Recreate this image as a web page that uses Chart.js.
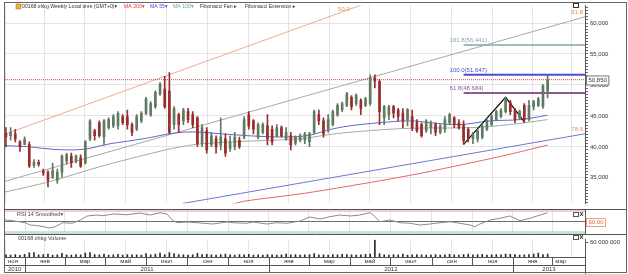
<!DOCTYPE html>
<html>
<head>
<meta charset="utf-8">
<script src="https://cdn.jsdelivr.net/npm/chart.js@4.4.1/dist/chart.umd.min.js"></script>
<style>
  body { margin: 0; background: #fff; }
  #wrap { position: relative; width: 628px; height: 274px; overflow: hidden; }
  #wrap canvas { position: absolute; left: 0; }
  .ln { position: absolute; background: #666; }
</style>
</head>
<body>
<div id="wrap">
  <canvas id="priceChart" width="628" height="209" style="top:0"></canvas>
  <canvas id="rsiChart" width="628" height="25" style="top:209px"></canvas>
  <canvas id="volumeChart" width="628" height="40" style="top:234px"></canvas>
  <div class="ln" style="left:4px;top:2px;width:623px;height:1px"></div>
  <div class="ln" style="left:4px;top:2px;width:1px;height:271px"></div>
  <div class="ln" style="left:626px;top:2px;width:1px;height:271px"></div>
  <div class="ln" style="left:4px;top:272px;width:623px;height:1px"></div>
</div>
<script>
// weekly candles 00168.xhkg, first week 2010-12-03
var startDate = Date.UTC(2010, 11, 3);

var opens = [
  42.2, 41.8, 42.1, 40.8, 40.4, 40.4, 37.0, 37.5, 36.1, 35.9,
  35.1, 34.6, 35.9, 37.7, 38.5, 37.7, 38.2, 37.4, 41.3, 42.6,
  43.9, 41.6, 43.1, 43.4, 43.4, 44.9, 44.9, 43.6, 42.85, 44.2,
  45.45, 45.2, 46.5, 48.55, 49.32, 49.06, 43.6, 45.2, 44.2, 45.7,
  45.2, 44.67, 40.5, 42.6, 40.4, 41.3, 40.3, 41.3, 39.75, 40.02,
  41.06, 41.57, 45.2, 44.2, 41.6, 42.35, 43.4, 42.85, 41.8, 43.1,
  41.3, 41.8, 40.6, 41.06, 41.06, 40.8, 42.35, 45.2, 44.2, 42.85,
  43.6, 45.2, 45.95, 46.7, 48.0, 47.0, 47.5, 46.7, 47.0, 51.1,
  50.6, 44.67, 45.2, 46.5, 45.95, 45.45, 44.4, 44.9, 43.9, 43.6,
  42.6, 43.1, 43.6, 42.35, 42.85, 43.9, 44.67, 43.9, 43.6, 42.85,
  41.3, 41.3, 41.57, 42.85, 43.6, 44.4, 44.9, 45.7, 47.25, 45.95,
  44.67, 46.7, 44.4, 46.5, 46.7, 46.5, 49.0
];
var highs = [
  43.1, 43.1, 42.85, 41.0, 41.6, 40.8, 37.95, 37.85, 36.4, 36.15,
  37.4, 36.4, 38.7, 38.98, 38.98, 38.7, 38.7, 41.0, 44.4, 42.85,
  44.2, 44.4, 44.67, 45.2, 45.7, 45.2, 45.95, 43.9, 45.2, 45.7,
  48.0, 47.3, 49.06, 50.36, 51.4, 52.0, 46.5, 45.45, 46.22, 46.22,
  45.7, 44.9, 43.6, 43.1, 42.35, 41.8, 44.67, 42.1, 41.8, 42.35,
  41.57, 44.9, 45.7, 44.4, 43.9, 43.9, 45.2, 43.4, 43.6, 43.4,
  43.1, 42.35, 41.8, 42.1, 42.35, 42.35, 45.95, 45.95, 44.67, 45.2,
  45.95, 47.0, 47.25, 48.8, 48.3, 48.55, 47.77, 48.0, 51.65, 51.65,
  50.87, 46.7, 46.7, 46.7, 46.22, 46.2, 46.2, 45.95, 44.4, 43.9,
  44.4, 44.2, 43.9, 43.6, 44.9, 45.45, 44.9, 44.4, 44.2, 43.1,
  42.35, 42.85, 43.6, 44.4, 45.2, 45.95, 46.2, 48.0, 47.5, 46.22,
  45.95, 47.0, 47.5, 47.5, 48.0, 50.1, 51.65
];
var lows = [
  40.0, 41.1, 40.8, 39.25, 40.3, 36.66, 36.66, 36.9, 35.37, 33.55,
  34.86, 34.1, 35.1, 37.2, 36.66, 37.4, 36.66, 37.2, 41.0, 41.06,
  41.57, 40.3, 42.85, 43.1, 42.85, 43.6, 42.85, 41.8, 42.6, 43.9,
  45.2, 44.9, 46.22, 48.3, 46.22, 42.1, 42.85, 42.35, 43.6, 43.9,
  43.1, 40.02, 40.02, 38.98, 40.02, 38.98, 39.5, 38.47, 39.25, 39.5,
  39.75, 41.3, 42.85, 42.1, 41.3, 42.1, 40.3, 40.3, 41.57, 41.57,
  41.06, 39.5, 40.3, 40.8, 40.5, 40.02, 42.1, 43.6, 41.57, 42.35,
  43.4, 44.9, 45.7, 46.5, 45.95, 46.7, 45.2, 46.5, 46.7, 49.5,
  43.6, 43.6, 44.4, 44.67, 44.2, 43.1, 43.4, 42.6, 42.35, 41.57,
  42.35, 42.1, 41.8, 42.1, 42.35, 43.6, 43.1, 42.85, 40.4, 40.8,
  40.5, 40.8, 41.3, 42.6, 43.4, 44.2, 44.67, 45.45, 45.2, 43.9,
  44.4, 43.9, 44.2, 45.95, 46.5, 46.2, 47.9
];
var closes = [
  41.6, 42.35, 41.3, 40.0, 41.2, 36.9, 37.5, 37.2, 35.8, 34.6,
  36.15, 35.9, 38.5, 38.7, 37.4, 38.5, 36.9, 40.8, 44.2, 41.8,
  41.8, 44.2, 44.4, 44.9, 45.4, 43.9, 43.6, 42.35, 44.9, 45.4,
  47.77, 47.0, 48.8, 50.1, 46.5, 42.35, 46.2, 43.6, 45.95, 44.4,
  43.6, 40.5, 43.1, 39.5, 41.8, 40.0, 41.6, 38.98, 40.8, 41.57,
  40.02, 44.4, 43.4, 42.85, 43.6, 43.6, 41.3, 40.8, 43.1, 41.8,
  42.35, 40.3, 41.57, 41.8, 42.1, 42.1, 45.7, 44.2, 42.1, 44.4,
  45.7, 46.7, 47.0, 48.55, 46.5, 48.3, 46.22, 47.77, 51.1, 50.6,
  45.7, 46.5, 46.5, 45.45, 44.9, 44.2, 46.0, 43.0, 42.6, 41.8,
  44.2, 43.9, 42.35, 43.4, 44.4, 45.2, 43.6, 43.1, 41.0, 41.3,
  42.1, 42.6, 43.4, 44.2, 44.9, 45.7, 45.95, 47.5, 45.7, 44.4,
  45.7, 44.4, 46.7, 47.3, 47.77, 49.8, 50.85
];
// volume, millions of shares
var volumes = [
  9, 8, 10, 7, 11, 17, 18, 9, 10, 12,
  8, 9, 15, 9, 8, 10, 9, 16, 18, 10,
  9, 12, 8, 9, 11, 8, 10, 9, 9, 8,
  14, 9, 12, 16, 10, 18, 14, 10, 9, 8,
  9, 15, 10, 11, 9, 8, 10, 12, 9, 8,
  10, 9, 11, 8, 9, 8, 10, 9, 8, 9,
  12, 9, 10, 8, 9, 10, 14, 9, 9, 8,
  10, 9, 11, 10, 9, 8, 9, 11, 12, 70,
  14, 9, 8, 10, 9, 12, 8, 9, 10, 9,
  8, 9, 10, 8, 9, 11, 9, 8, 10, 12,
  9, 10, 11, 8, 9, 10, 9, 12, 11, 10,
  8, 9, 10, 12, 16, 10, 12
];

// moving averages: [week, value]
var ma55 = [[-0.2, 40.2], [5.2, 40.0], [10.1, 39.6], [16.5, 39.6], [22.3, 40.5], [29.4, 41.3], [35.8, 42.2],
  [40.1, 42.4], [48.0, 42.0], [54.4, 41.7], [60.8, 41.6], [65.1, 41.9], [69.4, 42.8], [73.7, 43.4],
  [80.1, 43.9], [86.5, 44.2], [90.8, 43.9], [97.2, 43.6], [103.7, 44.2], [110.1, 44.4], [116, 45.1]];
var ma100 = [[-0.2, 32.7], [9.4, 34.4], [20.1, 36.8], [30.9, 38.9], [37.3, 40.0], [43.7, 40.6], [54.4, 41.0],
  [63.0, 41.3], [69.4, 42.0], [75.8, 42.5], [86.5, 43.0], [99.4, 43.1], [107.9, 43.6], [116, 44.4]];
var ma200 = [[48.0, 30.6], [50.8, 31.2], [63.0, 32.4], [73.7, 33.7], [86.5, 35.4], [99.4, 37.4], [107.9, 38.8], [116, 40.3]];

// RSI 14 smoothed: [week, value]
var rsiPts = [[-0.2, 53.6], [1.5, 51.9], [4.1, 47.1], [5.2, 41.6], [7.3, 39.2], [9.4, 34.4], [10.5, 37.5],
  [12.2, 47.1], [14.2, 45.7], [15.9, 53.6], [17.4, 63.2], [19.5, 65.6], [20.8, 63.9], [22.9, 68.0],
  [25.9, 66.3], [28.7, 70.4], [30.9, 65.6], [33.0, 71.1], [34.5, 68.0], [35.6, 53.6], [36.6, 47.1],
  [38.8, 48.8], [41.6, 46.4], [44.3, 44.0], [47.3, 48.8], [48.6, 47.1], [51.6, 45.7], [52.9, 48.8],
  [55.9, 44.0], [58.0, 47.1], [60.2, 45.7], [63.0, 51.2], [65.1, 60.8], [67.3, 56.0], [69.4, 61.5],
  [71.5, 65.6], [73.7, 63.2], [75.8, 65.6], [78.0, 71.1], [79.0, 61.5], [80.1, 49.5], [82.2, 53.6],
  [84.4, 47.1], [86.5, 45.7], [88.7, 41.6], [90.8, 44.0], [93.0, 47.1], [95.1, 49.5], [97.2, 45.7],
  [99.4, 41.6], [100.4, 37.5], [101.5, 44.0], [103.7, 53.6], [105.8, 57.7], [107.9, 63.2],
  [110.1, 51.9], [112.2, 57.7], [114.4, 65.6], [116.0, 71.1]];
var rsiMid = 50, rsiUpper = [73, 80], rsiLower = [20, 27], rsiBadge = '60.00';

// Fibonacci fan: start and end [week, price]
var fanNames = ['50.0', '61.8', '78.6'];
var fanStart = [[-0.2, 42.04], [-0.2, 34.44], [37.92, 30.87]];
var fanEnd = [[124, 76.0], [124, 61.0], [124, 42.11]];

// Fibonacci extension: zigzag and levels
var zigX = [98, 107, 111];
var zigY = [40.4, 48.0, 44.05];
var extNames = ['61.8', '100.0', '161.8'];
var extLevels = [48.684, 51.647, 56.441];

var lastPrice = 50.85;
var monthNames = ['янв', 'мар', 'май', 'июл', 'сен', 'ноя'];
var volTick = 60;

var FONT = '"Liberation Sans", "DejaVu Sans", sans-serif';
var UP = '#5f7a62', DOWN = '#9a2c2c', GRID = '#e4e4e4';
var fanColors = ['#f0a892', '#a8a8a8', '#7078d4'];
var extColors = ['#8a5a92', '#4c4ccf', '#86a6ac'];
var xMin = -0.2, xMax = 124;
Chart.defaults.font.family = FONT;

function weekOf(y, m) { return (Date.UTC(y, m, 1) - startDate) / 6048e5; }
var bounds = [];
for (var y = 2010, m = 10; y < 2013 || m <= 6; ) {
  bounds.push({ y: y, m: m, v: weekOf(y, m) });
  m += 2; if (m > 11) { m -= 12; y++; }
}
var gridVals = bounds.map(function (b) { return b.v; }).filter(function (v) { return v > xMin && v < xMax; });

function xAxis() {
  return {
    type: 'linear', min: xMin, max: xMax, offset: false,
    afterBuildTicks: function (s) { s.ticks = gridVals.map(function (v) { return { value: v }; }); },
    afterFit: function (s) { s.height = 0; },
    ticks: { display: false },
    grid: { color: GRID, drawTicks: false },
    border: { display: false }
  };
}
var base = { responsive: false, animation: false, events: [], plugins: { legend: { display: false }, tooltip: { enabled: false } } };
function pts(a) { return a.map(function (p) { return { x: p[0], y: p[1] }; }); }
function line(data, color, w, order, extra) {
  var d = { type: 'line', data: data, borderColor: color, borderWidth: w, pointRadius: 0, tension: 0, order: order };
  for (var k in extra) d[k] = extra[k];
  return d;
}

var weeks = opens.map(function (_, i) { return i; });
var candleColors = weeks.map(function (i) { return closes[i] >= opens[i] ? UP : DOWN; });

var datasets = [
  { type: 'bar', data: weeks.map(function (i) { return { x: i, y: [lows[i], highs[i]] }; }), backgroundColor: candleColors, barThickness: 1, grouped: false, order: 0 },
  { type: 'bar', data: weeks.map(function (i) { return { x: i, y: [opens[i], closes[i]] }; }), backgroundColor: candleColors, barThickness: 2, minBarLength: 1, grouped: false, order: 0 },
  line(pts(ma55), '#6466cc', 1, 2, { tension: 0.35 }),
  line(pts(ma100), '#9fae9f', 1, 3, { tension: 0.35 }),
  line(pts(ma200), '#e06a6a', 1, 3, { tension: 0.35 }),
  line([{ x: xMin, y: lastPrice }, { x: xMax, y: lastPrice }], '#d24a4a', 1, 1, { borderDash: [1, 1] }),
  line(zigX.map(function (v, i) { return { x: v, y: zigY[i] }; }), '#151515', 1.3, 1)
];
fanNames.forEach(function (n, i) {
  datasets.push(line([{ x: fanStart[i][0], y: fanStart[i][1] }, { x: fanEnd[i][0], y: fanEnd[i][1] }], fanColors[i], 1, 4));
});
extLevels.forEach(function (v, i) {
  datasets.push(line([{ x: zigX[0], y: v }, { x: xMax, y: v }], extColors[i], i === 2 ? 1.5 : 2, 1));
});

var priceDecor = {
  id: 'priceDecor',
  afterDatasetsDraw: function (chart) {
    var ctx = chart.ctx, a = chart.chartArea, x = chart.scales.x, y = chart.scales.y;
    ctx.save();
    ctx.font = '6px ' + FONT;
    ctx.textBaseline = 'bottom'; ctx.textAlign = 'left';
    extLevels.forEach(function (v, i) {
      ctx.fillStyle = extColors[i];
      ctx.fillText(extNames[i] + '(' + v.toFixed(3) + ')', x.getPixelForValue(zigX[0]) - 14, y.getPixelForValue(v) - 1.5);
    });
    ctx.fillStyle = '#e8904c';
    ctx.textAlign = 'right';
    fanNames.forEach(function (n, i) {
      var s = fanStart[i], e = fanEnd[i];
      if (e[1] > y.max) {
        var t = (y.max - s[1]) / (e[1] - s[1]);
        ctx.textBaseline = 'middle';
        ctx.fillText(n, x.getPixelForValue(s[0] + t * (e[0] - s[0])) - 10, a.top + 4);
      } else {
        ctx.textBaseline = 'bottom';
        ctx.fillText(n, a.right - 2, y.getPixelForValue(e[1]) - 1.5);
      }
    });
    // header
    ctx.fillStyle = '#f0b040'; ctx.fillRect(16, 4, 5, 5);
    ctx.strokeStyle = '#b07a20'; ctx.lineWidth = 0.6; ctx.strokeRect(16, 4, 5, 5);
    ctx.font = '5.2px ' + FONT;
    ctx.textAlign = 'left'; ctx.textBaseline = 'middle';
    var items = [['00168.xhkg Weekly Local time (GMT+0)\u25BE', '#333', 22], ['MA 200\u25BE', '#e03c3c', 124],
      ['MA 55\u25BE', '#4b4bd0', 150], ['MA 100\u25BE', '#6aaa7a', 173], ['Fibonacci Fan \u25B8', '#333', 200],
      ['Fibonacci Extension \u25B8', '#333', 245]];
    items.forEach(function (it) { ctx.fillStyle = it[1]; ctx.fillText(it[0], it[2], 6.5); });
    ctx.strokeStyle = '#333'; ctx.lineWidth = 1;
    ctx.strokeRect(573.5, 3.5, 5, 4);
    ctx.restore();
  },
  afterDraw: function (chart) {
    var ctx = chart.ctx, y = chart.scales.y;
    var py = Math.round(y.getPixelForValue(lastPrice)) + 0.5;
    ctx.save();
    ctx.font = '6px ' + FONT;
    var label = lastPrice.toFixed(3).replace('.', ',');
    var w = ctx.measureText(label).width + 4;
    ctx.fillStyle = '#fff'; ctx.fillRect(586.5, py - 4.5, w, 9);
    ctx.strokeStyle = '#777'; ctx.lineWidth = 1; ctx.strokeRect(586.5, py - 4.5, w, 9);
    ctx.fillStyle = '#333'; ctx.textBaseline = 'middle'; ctx.fillText(label, 588.5, py);
    ctx.restore();
  }
};

new Chart(document.getElementById('priceChart'), {
  type: 'bar',
  data: { datasets: datasets },
  options: Object.assign({}, base, {
    layout: { padding: { left: 5, top: 3, right: 0, bottom: 0 } },
    scales: {
      x: xAxis(),
      y: {
        position: 'right', min: 30.87, max: 62.81,
        afterBuildTicks: function (s) { var t = []; for (var k = 62; k <= 125; k++) t.push({ value: k / 2 }); s.ticks = t; },
        afterFit: function (s) { s.width = 43; },
        ticks: { autoSkip: false, padding: 2, color: '#333', font: { size: 6 },
          callback: function (v) { return v % 5 === 0 ? v.toFixed(3).replace('.', ',') : ''; } },
        grid: { color: function (c) { return c.tick && c.tick.value % 5 === 0 ? GRID : 'rgba(0,0,0,0)'; }, tickColor: '#666', tickLength: 3 },
        border: { color: '#555' }
      }
    }
  }),
  plugins: [priceDecor]
});

var rsiDecor = {
  id: 'rsiDecor',
  beforeDatasetsDraw: function (chart) {
    var ctx = chart.ctx, a = chart.chartArea, y = chart.scales.y;
    ctx.save();
    ctx.fillStyle = '#f3cccc';
    ctx.fillRect(a.left, y.getPixelForValue(rsiUpper[1]), a.width, y.getPixelForValue(rsiUpper[0]) - y.getPixelForValue(rsiUpper[1]));
    ctx.fillStyle = '#cde0cd';
    ctx.fillRect(a.left, y.getPixelForValue(rsiLower[1]), a.width, y.getPixelForValue(rsiLower[0]) - y.getPixelForValue(rsiLower[1]));
    ctx.restore();
  },
  afterDraw: function (chart) {
    var ctx = chart.ctx, a = chart.chartArea, y = chart.scales.y;
    ctx.save();
    ctx.strokeStyle = '#555'; ctx.lineWidth = 1;
    ctx.beginPath(); ctx.moveTo(4, 0.5); ctx.lineTo(627, 0.5); ctx.stroke();
    ctx.font = '5.5px ' + FONT; ctx.textBaseline = 'middle';
    ctx.fillStyle = '#444'; ctx.fillText('RSI 14 Smoothed\u25BE', 17, 5.5);
    ctx.strokeRect(573.5, 3.5, 5, 4);
    ctx.font = 'bold 6px ' + FONT; ctx.fillStyle = '#222'; ctx.fillText('X', 579.5, 5.8);
    ctx.font = '6px ' + FONT;
    var py = Math.round(y.getPixelForValue(rsiMid)) + 0.5;
    var w = ctx.measureText(rsiBadge).width + 4;
    ctx.fillStyle = '#fff'; ctx.fillRect(586.5, py - 4, w, 8);
    ctx.strokeStyle = '#eba37a'; ctx.strokeRect(586.5, py - 4, w, 8);
    ctx.fillStyle = '#d2693a'; ctx.fillText(rsiBadge, 588.5, py);
    ctx.restore();
  }
};

new Chart(document.getElementById('rsiChart'), {
  type: 'line',
  data: { datasets: [
    line(pts(rsiPts), '#8a8a8a', 1, 1),
    line([{ x: xMin, y: rsiMid }, { x: xMax, y: rsiMid }], '#6e6e6e', 1, 2)
  ] },
  options: Object.assign({}, base, {
    layout: { padding: { left: 5, top: 0, right: 0, bottom: 0 } },
    scales: {
      x: xAxis(),
      y: { position: 'right', min: 20, max: 80, afterFit: function (s) { s.width = 43; },
        ticks: { display: false }, grid: { display: false }, border: { color: '#555' } }
    }
  }),
  plugins: [rsiDecor]
});

var volDecor = {
  id: 'volDecor',
  afterDraw: function (chart) {
    var ctx = chart.ctx, a = chart.chartArea, x = chart.scales.x;
    ctx.save();
    ctx.strokeStyle = '#555'; ctx.lineWidth = 1;
    ctx.beginPath(); ctx.moveTo(4, 0.5); ctx.lineTo(627, 0.5); ctx.stroke();
    ctx.font = '5.5px ' + FONT; ctx.textBaseline = 'middle';
    ctx.fillStyle = '#444'; ctx.fillText('00168.xhkg Volume', 18, 4.5);
    ctx.strokeRect(573.5, 1.5, 5, 4);
    ctx.font = 'bold 6px ' + FONT; ctx.fillStyle = '#222'; ctx.fillText('X', 579.5, 3.8);
    ctx.font = '6px ' + FONT;
    // date axis: month row and year row
    var top = a.bottom, mid = top + 8, bot = top + 15;
    ctx.strokeStyle = '#555';
    ctx.beginPath();
    ctx.moveTo(a.left, top + 0.5); ctx.lineTo(a.right, top + 0.5);
    ctx.moveTo(a.left, mid + 0.5); ctx.lineTo(a.right, mid + 0.5);
    ctx.moveTo(a.right + 0.5, top); ctx.lineTo(a.right + 0.5, 40);
    ctx.stroke();
    ctx.fillStyle = '#333';
    function cell(v0, v1, y0, y1, text, leftWhenCut) {
      var x0 = x.getPixelForValue(v0), x1 = x.getPixelForValue(v1);
      var c0 = Math.max(x0, a.left), c1 = Math.min(x1, a.right);
      if (c1 <= c0) return;
      if (x0 >= a.left) { ctx.beginPath(); ctx.moveTo(Math.round(x0) + 0.5, y0); ctx.lineTo(Math.round(x0) + 0.5, y1); ctx.stroke(); }
      var cut = x0 < a.left || (leftWhenCut && x1 > a.right);
      ctx.textAlign = cut ? 'left' : 'center';
      ctx.fillText(text, cut ? c0 + 3 : (c0 + c1) / 2, (y0 + y1) / 2 + 0.5);
    }
    for (var i = 0; i < bounds.length - 1; i++) {
      cell(bounds[i].v, bounds[i + 1].v, top, mid, monthNames[bounds[i].m / 2], true);
    }
    for (var yr = 2010; yr <= 2013; yr++) {
      cell(weekOf(yr, 0), weekOf(yr + 1, 0), mid, bot, String(yr), false);
    }
    ctx.restore();
  }
};

new Chart(document.getElementById('volumeChart'), {
  type: 'bar',
  data: { datasets: [
    { data: weeks.map(function (i) { return { x: i, y: volumes[i] }; }), backgroundColor: '#2a2a2a', barThickness: 1 }
  ] },
  options: Object.assign({}, base, {
    layout: { padding: { left: 5, top: 1, right: 0, bottom: 17 } },
    scales: {
      x: xAxis(),
      y: { position: 'right', min: 0, max: 72,
        afterBuildTicks: function (s) { s.ticks = [{ value: volTick }]; },
        afterFit: function (s) { s.width = 43; },
        ticks: { autoSkip: false, padding: 2, color: '#333', font: { size: 6 },
          callback: function (v) { return String(v * 1e6).replace(/\B(?=(\d{3})+(?!\d))/g, ' '); } },
        grid: { color: 'rgba(0,0,0,0)', tickColor: '#666', tickLength: 3 },
        border: { color: '#555' }
      }
    }
  }),
  plugins: [volDecor]
});
</script>
</body>
</html>
